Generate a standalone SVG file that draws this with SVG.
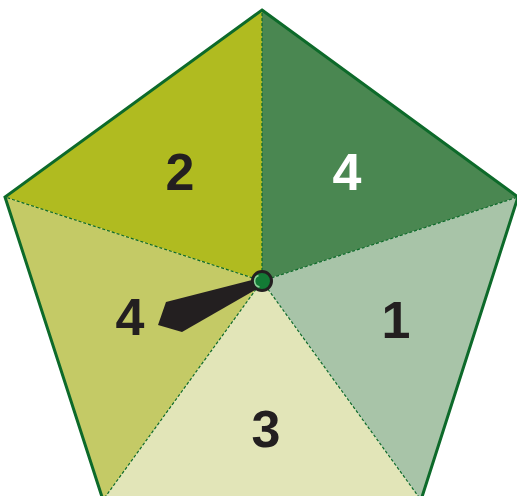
<svg xmlns="http://www.w3.org/2000/svg" width="517" height="496" viewBox="0 0 517 496">
<style>
.sec{stroke:none}
.div{stroke:#0d6a2a;stroke-width:1.2;stroke-dasharray:3,2;fill:none}
.num{font-family:"Liberation Sans",Arial,sans-serif;font-weight:bold;font-size:52px;text-anchor:middle;fill:#231f20}
</style>
<rect width="517" height="496" fill="#ffffff"/>
<g id="sector-2"><polygon class="sec" fill="#b0bb20" points="262,281 262,10 5,197"/><text class="num" x="180" y="190">2</text></g>
<g id="sector-4a"><polygon class="sec" fill="#4a8751" points="262,281 262,10 518,197"/><text class="num" x="347" y="190" style="fill:#ffffff">4</text></g>
<g id="sector-1"><polygon class="sec" fill="#a8c4a8" points="262,281 518,197 421,500"/><text class="num" x="396" y="338">1</text></g>
<g id="sector-3"><polygon class="sec" fill="#e2e5b8" points="262,281 421,500 103,500"/><text class="num" x="266" y="447">3</text></g>
<g id="sector-4b"><polygon class="sec" fill="#c4ca66" points="262,281 103,500 5,197"/><text class="num" x="130" y="335">4</text></g>
<g id="connectors">
<line class="div" x1="262" y1="281" x2="262" y2="10"/>
<line class="div" x1="262" y1="281" x2="5" y2="197"/>
<line class="div" x1="262" y1="281" x2="518" y2="197"/>
<line class="div" x1="262" y1="281" x2="421" y2="500"/>
<line class="div" x1="262" y1="281" x2="103" y2="500"/>
</g>
<g id="outline"><polygon points="262,10 518,197 421,500 103,500 5,197" fill="none" stroke="#0d6a2a" stroke-width="3" stroke-linejoin="miter"/></g>
<g id="pointer">
<polygon points="252,280 166,302 158,325 182,332 257,289" fill="#231f20"/>
<circle cx="262" cy="281" r="9.5" fill="#137a35" stroke="#231f20" stroke-width="3"/>
<path d="M258.5,275.5 A6,6 0 0 0 259.5,287" stroke="#8fd09a" stroke-width="1.5" fill="none"/>
</g>
</svg>
